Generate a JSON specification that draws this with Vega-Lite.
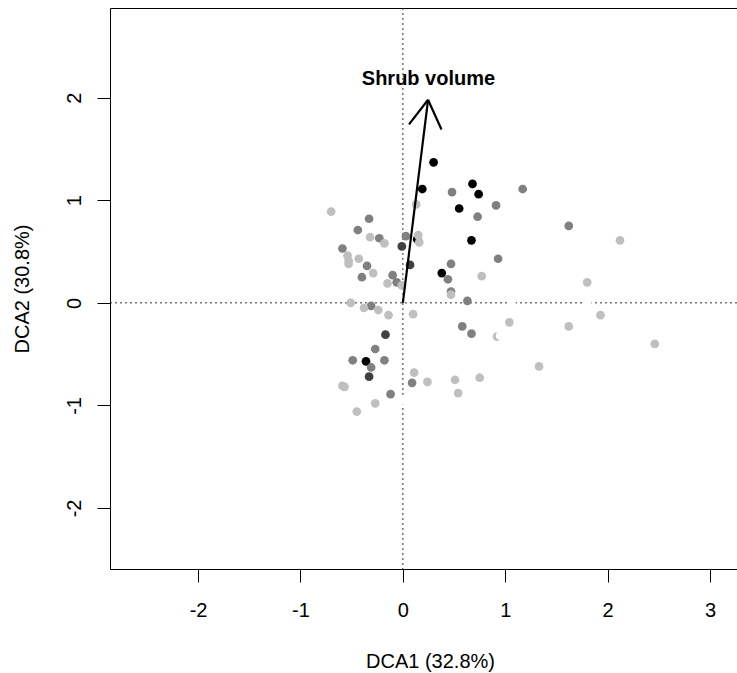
{
  "$schema": "https://vega.github.io/schema/vega-lite/v6.json",
  "width": 627,
  "height": 561,
  "autosize": "none",
  "padding": {"left": 110, "top": 8, "right": 0, "bottom": 104},
  "background": "white",
  "config": {"view": {"stroke": null}, "font": "Liberation Sans"},
  "datasets": {
    "refs": [{"x0": 0, "y0": 0}],
    "points": [
      {"x": 0.30, "y": 1.37, "g": "black"},
      {"x": 0.19, "y": 1.11, "g": "black"},
      {"x": 0.14, "y": 0.62, "g": "black"},
      {"x": 0.38, "y": 0.29, "g": "black"},
      {"x": 0.68, "y": 1.16, "g": "black"},
      {"x": 0.74, "y": 1.06, "g": "black"},
      {"x": 0.55, "y": 0.92, "g": "black"},
      {"x": 0.67, "y": 0.61, "g": "black"},
      {"x": -0.36, "y": -0.57, "g": "black"},
      {"x": -0.01, "y": 0.55, "g": "dark"},
      {"x": 0.07, "y": 0.37, "g": "dark"},
      {"x": -0.17, "y": -0.31, "g": "dark"},
      {"x": -0.33, "y": -0.72, "g": "dark"},
      {"x": -0.33, "y": 0.82, "g": "medium"},
      {"x": -0.44, "y": 0.71, "g": "medium"},
      {"x": -0.23, "y": 0.63, "g": "medium"},
      {"x": 0.03, "y": 0.65, "g": "medium"},
      {"x": -0.59, "y": 0.53, "g": "medium"},
      {"x": -0.35, "y": 0.36, "g": "medium"},
      {"x": -0.40, "y": 0.25, "g": "medium"},
      {"x": -0.10, "y": 0.27, "g": "medium"},
      {"x": -0.06, "y": 0.20, "g": "medium"},
      {"x": -0.31, "y": -0.03, "g": "medium"},
      {"x": 0.48, "y": 1.08, "g": "medium"},
      {"x": 0.91, "y": 0.95, "g": "medium"},
      {"x": 0.73, "y": 0.84, "g": "medium"},
      {"x": 1.17, "y": 1.11, "g": "medium"},
      {"x": 1.62, "y": 0.75, "g": "medium"},
      {"x": 0.93, "y": 0.43, "g": "medium"},
      {"x": 0.47, "y": 0.38, "g": "medium"},
      {"x": 0.44, "y": 0.23, "g": "medium"},
      {"x": 0.47, "y": 0.11, "g": "medium"},
      {"x": 0.63, "y": 0.02, "g": "medium"},
      {"x": 0.58, "y": -0.23, "g": "medium"},
      {"x": 0.67, "y": -0.30, "g": "medium"},
      {"x": -0.27, "y": -0.45, "g": "medium"},
      {"x": -0.49, "y": -0.56, "g": "medium"},
      {"x": -0.18, "y": -0.56, "g": "medium"},
      {"x": -0.31, "y": -0.63, "g": "medium"},
      {"x": -0.12, "y": -0.89, "g": "medium"},
      {"x": 0.09, "y": -0.78, "g": "medium"},
      {"x": 0.13, "y": 0.96, "g": "light"},
      {"x": -0.70, "y": 0.89, "g": "light"},
      {"x": -0.32, "y": 0.64, "g": "light"},
      {"x": -0.18, "y": 0.58, "g": "light"},
      {"x": 0.15, "y": 0.66, "g": "light"},
      {"x": 0.16, "y": 0.59, "g": "light"},
      {"x": -0.54, "y": 0.46, "g": "light"},
      {"x": -0.53, "y": 0.41, "g": "light"},
      {"x": -0.53, "y": 0.38, "g": "light"},
      {"x": -0.43, "y": 0.43, "g": "light"},
      {"x": -0.29, "y": 0.29, "g": "light"},
      {"x": -0.15, "y": 0.19, "g": "light"},
      {"x": -0.01, "y": 0.17, "g": "light"},
      {"x": -0.51, "y": 0.00, "g": "light"},
      {"x": -0.38, "y": -0.05, "g": "light"},
      {"x": -0.24, "y": -0.07, "g": "light"},
      {"x": -0.14, "y": -0.12, "g": "light"},
      {"x": 0.10, "y": -0.11, "g": "light"},
      {"x": 0.77, "y": 0.26, "g": "light"},
      {"x": 0.47, "y": 0.08, "g": "light"},
      {"x": 1.80, "y": 0.20, "g": "light"},
      {"x": 2.12, "y": 0.61, "g": "light"},
      {"x": 1.93, "y": -0.12, "g": "light"},
      {"x": 2.46, "y": -0.40, "g": "light"},
      {"x": 1.04, "y": -0.19, "g": "light"},
      {"x": 0.92, "y": -0.33, "g": "light"},
      {"x": 1.62, "y": -0.23, "g": "light"},
      {"x": 1.33, "y": -0.62, "g": "light"},
      {"x": 0.51, "y": -0.75, "g": "light"},
      {"x": 0.75, "y": -0.73, "g": "light"},
      {"x": 0.54, "y": -0.88, "g": "light"},
      {"x": 0.11, "y": -0.68, "g": "light"},
      {"x": 0.24, "y": -0.77, "g": "light"},
      {"x": -0.59, "y": -0.81, "g": "light"},
      {"x": -0.57, "y": -0.82, "g": "light"},
      {"x": -0.27, "y": -0.98, "g": "light"},
      {"x": -0.45, "y": -1.06, "g": "light"},
      {"x": 1.06, "y": 0.00, "g": "white"},
      {"x": 1.80, "y": 0.00, "g": "white"},
      {"x": 0.95, "y": -0.32, "g": "white"},
      {"x": 0.00, "y": -0.95, "g": "white"}
    ],
    "arrow": [
      {"x": 0, "y": 0, "x2": 0.246, "y2": 1.98},
      {"x": 0.06, "y": 1.74, "x2": 0.246, "y2": 1.98},
      {"x": 0.377, "y": 1.69, "x2": 0.246, "y2": 1.98}
    ],
    "label": [{"x": 0.25, "y": 2.18, "t": "Shrub volume"}]
  },
  "layer": [
    {
      "data": {"name": "refs"},
      "mark": {"type": "rule", "color": "#333333", "strokeWidth": 1, "strokeDash": [2, 3]},
      "encoding": {
        "x": {
          "field": "x0", "type": "quantitative",
          "scale": {"domain": [-2.86, 3.263], "nice": false, "zero": false},
          "axis": {"orient": "top", "labels": false, "ticks": false, "title": null, "grid": false, "domain": true, "domainColor": "black", "domainWidth": 1}
        }
      }
    },
    {
      "data": {"name": "refs"},
      "mark": {"type": "rule", "color": "#333333", "strokeWidth": 1, "strokeDash": [2, 3]},
      "encoding": {
        "y": {
          "field": "y0", "type": "quantitative",
          "scale": {"domain": [-2.595, 2.875], "nice": false, "zero": false}
        }
      }
    },
    {
      "data": {"name": "points"},
      "mark": {"type": "circle", "size": 76, "opacity": 1},
      "encoding": {
        "x": {
          "field": "x", "type": "quantitative",
          "scale": {"domain": [-2.86, 3.263], "nice": false, "zero": false},
          "axis": {
            "orient": "bottom", "values": [-2, -1, 0, 1, 2, 3], "grid": false,
            "labelExpr": "'' + datum.value",
            "tickSize": 13, "tickColor": "black", "tickWidth": 1,
            "domainColor": "black", "domainWidth": 1,
            "labelFontSize": 20, "labelColor": "black", "labelPadding": 18,
            "labelFlush": false, "labelOverlap": false,
            "title": "DCA1 (32.8%)", "titleFontSize": 20, "titleFontWeight": "normal",
            "titleColor": "black", "titlePadding": 31, "titleX": 320
          }
        },
        "y": {
          "field": "y", "type": "quantitative",
          "scale": {"domain": [-2.595, 2.875], "nice": false, "zero": false},
          "axis": {
            "values": [-2, -1, 0, 1, 2], "grid": false,
            "labelExpr": "'' + datum.value",
            "tickSize": 13, "tickColor": "black", "tickWidth": 1,
            "domainColor": "black", "domainWidth": 1,
            "labelFontSize": 20, "labelColor": "black", "labelPadding": 17,
            "labelAngle": 270, "labelAlign": "center", "labelBaseline": "alphabetic",
            "labelFlush": false, "labelOverlap": false,
            "title": "DCA2 (30.8%)", "titleFontSize": 20, "titleFontWeight": "normal",
            "titleColor": "black", "titlePadding": 32
          }
        },
        "color": {
          "field": "g", "type": "nominal",
          "scale": {"domain": ["black", "dark", "medium", "light", "white"], "range": ["#000000", "#404040", "#808080", "#bfbfbf", "#ffffff"]},
          "legend": null
        }
      }
    },
    {
      "data": {"name": "arrow"},
      "mark": {"type": "rule", "color": "black", "strokeWidth": 2.2},
      "encoding": {
        "x": {"field": "x", "type": "quantitative", "axis": null},
        "y": {"field": "y", "type": "quantitative"},
        "x2": {"field": "x2"},
        "y2": {"field": "y2"}
      }
    },
    {
      "data": {"name": "label"},
      "mark": {"type": "text", "fontSize": 20, "fontWeight": "bold", "color": "black", "align": "center", "baseline": "middle"},
      "encoding": {
        "x": {"field": "x", "type": "quantitative", "axis": null},
        "y": {"field": "y", "type": "quantitative"},
        "text": {"field": "t"}
      }
    }
  ],
  "resolve": {"axis": {"x": "independent"}}
}
